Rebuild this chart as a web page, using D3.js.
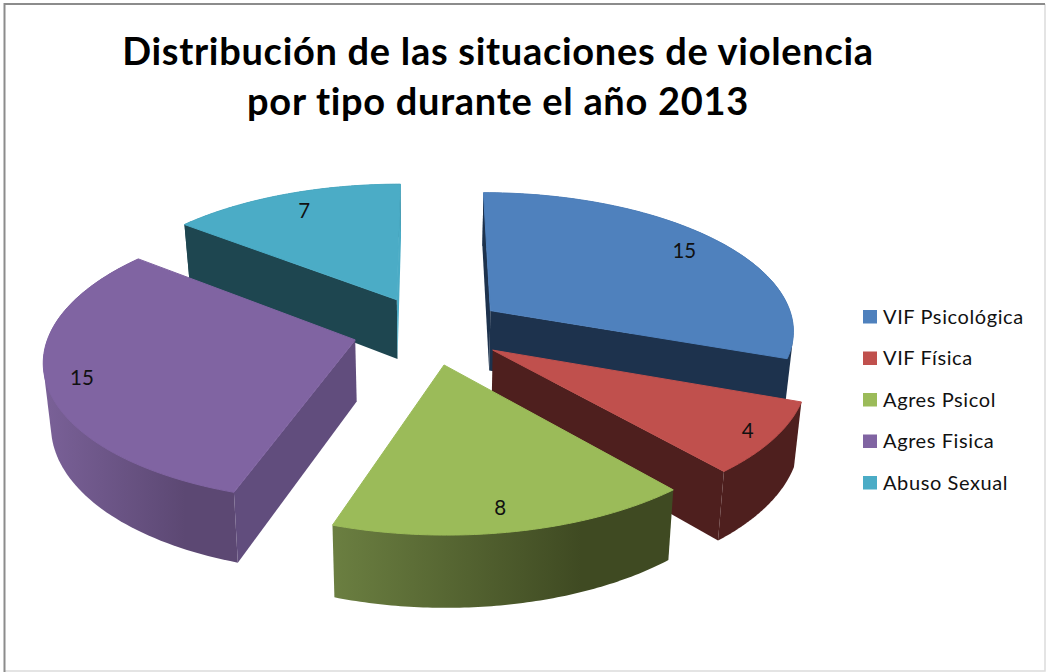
<!DOCTYPE html>
<html>
<head>
<meta charset="utf-8">
<script src="https://cdn.jsdelivr.net/npm/d3@7/dist/d3.min.js"></script>
<style>
  html, body { margin: 0; padding: 0; background: #fff; }
  svg { display: block; }
  text { font-family: Lato, "Open Sans", sans-serif; fill: #111; }
</style>
</head>
<body>
<svg id="chart" width="1046" height="672"></svg>
<script>
// Violence situations by type, 2013
const categories = ["VIF Psicológica", "VIF Física", "Agres Psicol", "Agres Fisica", "Abuso Sexual"];
const values = [15, 4, 8, 15, 7];
const titleLines = ["Distribución de las situaciones de violencia", "por tipo durante el año 2013"];

// Colours per slice: top face, outer wall gradient, start wall, end wall
const topColors = ["#4f81bd", "#c0504d", "#9bbb59", "#8064a2", "#4bacc6"];
const wallFrom = ["#1d324d", "#4e1f1e", "#6b7f41", "#7a6198", "#1e4650"];
const wallTo = ["#1d324d", "#4e1f1e", "#3f4a22", "#5c4873", "#1e4650"];
const startWall = ["#1d324d", "#4e1f1e", "#6b7f41", "#614d7d", "#1e4650"];
const endWall = ["#1d324d", "#4e1f1e", "#3f4a22", "#614d7d", "#4bacc6"];

// Value label placement along each slice's middle angle
const labelRadius = [0.85, 0.91, 0.87, 0.89, 0.84];
const labelNudge = [1, 1, -5, 1, 3];

// Painter's order, back to front
const drawOrder = [4, 0, 3, 1, 2];

// Perspective camera for the tilted pie
const view = { cx: 429, cy: 330, rx: 305, ry: 138, persp: 0.13, explode: 0.25, depth: 61, shrink: 0.98 };

function project(X, Y, bottom) {
  const s = 1 / (1 - view.persp * Y);
  const px = view.rx * X * s;
  const py = view.ry * Y * s;
  return bottom
    ? [view.cx + px * view.shrink, view.cy + py + view.depth * s]
    : [view.cx + px, view.cy + py];
}

const svg = d3.select("#chart");
const defs = svg.append("defs");
const line = d3.line().curve(d3.curveLinear);

// Chart frame: darker on the top and left, pale on the right and bottom
svg.append("path").attr("d", "M1045,4V671H4").attr("fill", "none").attr("stroke", "#dcdcdc").attr("stroke-width", 1.5);
svg.append("path").attr("d", "M4.5,672V4H1045").attr("fill", "none").attr("stroke", "#8c8c8c").attr("stroke-width", 2);

// Title
svg.append("g").selectAll("text").data(titleLines).join("text")
  .attr("x", 498)
  .attr("y", (d, i) => 65 + i * 50)
  .attr("text-anchor", "middle")
  .attr("font-size", 38)
  .attr("font-weight", 700)
  .attr("letter-spacing", 0.7)
  .style("fill", "#000")
  .text(d => d);

// Pie geometry
const arcs = d3.pie().sort(null).value(d => d)(values);
const pieLayer = svg.append("g");
const labelLayer = svg.append("g");

function slicePoint(arc, theta, radius) {
  const mid = (arc.startAngle + arc.endAngle) / 2;
  return [
    Math.sin(theta) * radius + Math.sin(mid) * view.explode,
    -Math.cos(theta) * radius - Math.cos(mid) * view.explode
  ];
}

const cross = (a, b) => a[0] * b[1] - a[1] * b[0];
const minus = (a, b) => [a[0] - b[0], a[1] - b[1]];

drawOrder.forEach(i => {
  const a = arcs[i];
  const thetas = d3.range(0, 81).map(k => a.startAngle + (a.endAngle - a.startAngle) * k / 80);
  const apex = slicePoint(a, 0, 0);
  const rim = thetas.map(t => slicePoint(a, t, 1));
  const rimTop = rim.map(p => project(p[0], p[1], false));
  const rimBottom = rim.map(p => project(p[0], p[1], true));
  const apexTop = project(apex[0], apex[1], false);
  const apexBottom = project(apex[0], apex[1], true);

  const xs = d3.extent(rimTop.concat(rimBottom), p => p[0]);
  const grad = defs.append("linearGradient")
    .attr("id", "wall" + i)
    .attr("gradientUnits", "userSpaceOnUse")
    .attr("x1", xs[0]).attr("x2", xs[1]).attr("y1", 0).attr("y2", 0);
  grad.append("stop").attr("offset", 0).attr("stop-color", wallFrom[i]);
  grad.append("stop").attr("offset", 0.73).attr("stop-color", wallTo[i]);
  grad.append("stop").attr("offset", 1).attr("stop-color", wallTo[i]);

  const g = pieLayer.append("g");

  // The outer wall's swept silhouette; the top face hides its upper part
  g.append("path")
    .attr("d", line(d3.polygonHull(rimTop.concat(rimBottom))) + "Z")
    .attr("fill", `url(#wall${i})`);

  // A cut face is seen only when its extrusion falls outside the top face
  const faces = [[0, 80, startWall[i]], [80, 0, endWall[i]]];
  faces.forEach(([k, other, color]) => {
    const edge = minus(rimTop[k], apexTop);
    const interior = minus(rimTop[other], apexTop);
    const drop = minus(rimBottom[k], rimTop[k]);
    if (cross(edge, drop) * cross(edge, interior) < 0) {
      g.append("path")
        .attr("d", line([apexTop, rimTop[k], rimBottom[k], apexBottom]) + "Z")
        .attr("fill", color);
    }
  });

  g.append("path")
    .attr("d", line([apexTop].concat(rimTop)) + "Z")
    .attr("fill", topColors[i])
    .attr("stroke", topColors[i])
    .attr("stroke-width", 1);
});

// Value labels on the top faces
arcs.forEach((a, i) => {
  const mid = (a.startAngle + a.endAngle) / 2;
  const p = slicePoint(a, mid, labelRadius[i]);
  const xy = project(p[0], p[1], false);
  labelLayer.append("text")
    .attr("x", xy[0] + labelNudge[i]).attr("y", xy[1])
    .attr("text-anchor", "middle")
    .attr("dominant-baseline", "central")
    .attr("font-size", 20.5)
    .text(a.value);
});

// Legend
const legendY = d3.scalePoint().domain(categories).range([316.5, 482.5]);
const legend = svg.append("g").selectAll("g").data(categories).join("g")
  .attr("transform", d => `translate(0,${legendY(d)})`);
legend.append("rect")
  .attr("x", 863).attr("y", -6.5).attr("width", 14).attr("height", 13.5)
  .attr("fill", (d, i) => topColors[i]);
legend.append("text")
  .attr("x", 883)
  .attr("y", -1)
  .attr("dominant-baseline", "central")
  .attr("font-size", 20)
  .attr("letter-spacing", 0.6)
  .text(d => d);
</script>
</body>
</html>
